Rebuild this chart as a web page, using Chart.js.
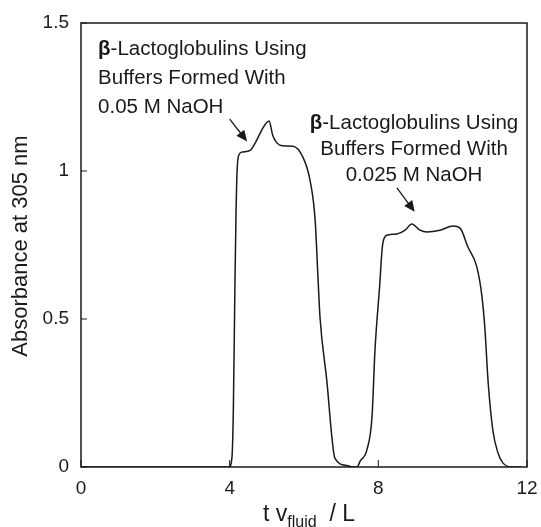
<!DOCTYPE html>
<html>
<head>
<meta charset="utf-8">
<script src="https://cdn.jsdelivr.net/npm/chart.js@4/dist/chart.umd.min.js"></script>
<style>
html,body{margin:0;padding:0;background:#fff;}
#wrap{width:541px;height:527px;position:relative;}
</style>
</head>
<body>
<div id="wrap"><canvas id="c" width="541" height="527"></canvas></div>
<script>
// ---- data ----
const volumes = [0, 3.98, 4.06, 4.10, 4.14, 4.17, 4.20, 4.25, 4.33, 4.55, 4.71, 4.87, 5.06, 5.16, 5.27, 5.43, 5.70, 5.97, 6.16, 6.30, 6.38, 6.43, 6.62, 6.75, 6.83, 7.16, 7.32, 7.43, 7.51, 7.69, 7.83, 7.91, 8.04, 8.10, 8.14, 8.26, 8.50, 8.72, 8.90, 9.12, 9.31, 9.66, 10.01, 10.20, 10.41, 10.65, 10.79, 10.87, 10.95, 11.08, 11.22, 11.35, 11.60, 11.85];
const absorbance = [0, 0, 0.03, 0.2, 0.6, 0.85, 1.0, 1.055, 1.064, 1.07, 1.10, 1.14, 1.169, 1.12, 1.095, 1.085, 1.084, 1.047, 0.97, 0.834, 0.63, 0.507, 0.284, 0.101, 0.03, 0.005, 0, 0, 0.02, 0.057, 0.17, 0.395, 0.62, 0.733, 0.767, 0.784, 0.787, 0.80, 0.821, 0.80, 0.794, 0.80, 0.814, 0.807, 0.743, 0.676, 0.574, 0.463, 0.294, 0.125, 0.047, 0.014, 0, 0];
const xTicks = [0, 4, 8, 12];
const yTicks = [0, 0.5, 1, 1.5];
const yTickLabels = ["0", "0.5", "1", "1.5"];
const label1 = ["-Lactoglobulins Using", "Buffers Formed With", "0.05 M NaOH"];
const label2 = ["-Lactoglobulins Using", "Buffers Formed With", "0.025 M NaOH"];
const yTitle = "Absorbance at 305 nm";

const FONT = "'Liberation Sans', Arial, Helvetica, sans-serif";
const INK = "#1a1a1a";

const points = volumes.map((v, i) => ({x: v, y: absorbance[i]}));

function arrow(ctx, x1, y1, x2, y2) {
  const ang = Math.atan2(y2 - y1, x2 - x1);
  const hl = 11, hw = 5;
  ctx.beginPath();
  ctx.moveTo(x1, y1);
  ctx.lineTo(x2 - Math.cos(ang) * hl * 0.8, y2 - Math.sin(ang) * hl * 0.8);
  ctx.stroke();
  ctx.beginPath();
  ctx.moveTo(x2, y2);
  ctx.lineTo(x2 - Math.cos(ang) * hl - Math.sin(ang) * hw, y2 - Math.sin(ang) * hl + Math.cos(ang) * hw);
  ctx.lineTo(x2 - Math.cos(ang) * hl + Math.sin(ang) * hw, y2 - Math.sin(ang) * hl - Math.cos(ang) * hw);
  ctx.closePath();
  ctx.fill();
}

const decor = {
  id: 'decor',
  afterDraw(chart) {
    const ctx = chart.ctx;
    const a = chart.chartArea;
    const xs = chart.scales.x, ys = chart.scales.y;
    ctx.save();
    // frame
    ctx.strokeStyle = INK;
    ctx.lineWidth = 1.5;
    ctx.strokeRect(a.left, a.top, a.right - a.left, a.bottom - a.top);
    // inward ticks
    ctx.lineWidth = 1;
    yTicks.forEach(v => {
      const py = ys.getPixelForValue(v);
      ctx.beginPath(); ctx.moveTo(a.left, py); ctx.lineTo(a.left + 6, py); ctx.stroke();
    });
    xTicks.forEach(v => {
      const px = xs.getPixelForValue(v);
      ctx.beginPath(); ctx.moveTo(px, a.bottom); ctx.lineTo(px, a.bottom - 7); ctx.stroke();
    });
    ctx.fillStyle = INK;
    ctx.textBaseline = 'middle';
    const fs = 20.5;
    const drawBetaLines = (lines, x0, y0, align, gap) => {
      lines.forEach((t, i) => {
        const y = y0 + i * gap;
        if (i === 0) {
          ctx.font = `bold ${fs}px ${FONT}`;
          const bw = ctx.measureText('β').width;
          ctx.font = `${fs}px ${FONT}`;
          const tw = ctx.measureText(t).width;
          let left = align === 'center' ? x0 - (bw + tw) / 2 : x0;
          ctx.textAlign = 'left';
          ctx.font = `bold ${fs}px ${FONT}`;
          ctx.fillText('β', left, y);
          ctx.font = `${fs}px ${FONT}`;
          ctx.fillText(t, left + bw, y);
        } else {
          ctx.font = `${fs}px ${FONT}`;
          ctx.textAlign = align;
          ctx.fillText(t, x0, y);
        }
      });
    };
    drawBetaLines(label1, xs.getPixelForValue(0.46), ys.getPixelForValue(1.41), 'left', 29);
    drawBetaLines(label2, xs.getPixelForValue(8.96), ys.getPixelForValue(1.162), 'center', 26);
    ctx.lineWidth = 1.3;
    arrow(ctx, xs.getPixelForValue(4.00), ys.getPixelForValue(1.175), xs.getPixelForValue(4.47), ys.getPixelForValue(1.10));
    arrow(ctx, xs.getPixelForValue(8.50), ys.getPixelForValue(0.943), xs.getPixelForValue(8.98), ys.getPixelForValue(0.862));
    // y title
    ctx.save();
    ctx.translate(21, 246);
    ctx.rotate(-Math.PI / 2);
    ctx.font = `22px ${FONT}`;
    ctx.textAlign = 'center';
    ctx.fillText(yTitle, 0, 0);
    ctx.restore();
    // x title with subscript
    const cx = 309;
    const ty = 515;
    ctx.textAlign = 'left';
    const p1 = 't v', p3 = '  / L', sub = 'fluid';
    ctx.font = `16px ${FONT}`;
    const w2 = ctx.measureText(sub).width;
    ctx.font = `23px ${FONT}`;
    const w1 = ctx.measureText(p1).width, w3 = ctx.measureText(p3).width;
    let sx = cx - (w1 + w2 + w3) / 2;
    ctx.fillText(p1, sx, ty);
    ctx.font = `16px ${FONT}`;
    ctx.fillText(sub, sx + w1, ty + 8);
    ctx.font = `23px ${FONT}`;
    ctx.fillText(p3, sx + w1 + w2, ty);
    ctx.restore();
  }
};

new Chart(document.getElementById('c'), {
  type: 'line',
  data: {
    datasets: [{
      data: points,
      borderColor: INK,
      borderWidth: 1.5,
      pointRadius: 0,
      fill: false,
      cubicInterpolationMode: 'monotone'
    }]
  },
  options: {
    responsive: false,
    animation: false,
    devicePixelRatio: 1,
    layout: {padding: {top: 23, right: 14, left: 0, bottom: 0}},
    plugins: {legend: {display: false}, tooltip: {enabled: false}},
    scales: {
      x: {
        type: 'linear', min: 0, max: 12,
        afterBuildTicks: s => { s.ticks = xTicks.map(v => ({value: v})); },
        afterFit: s => { s.height = 60; s.paddingLeft = 0; s.paddingRight = 0; },
        grid: {display: false, drawTicks: false},
        border: {display: false},
        ticks: {color: INK, font: {family: FONT, size: 19}, padding: 10, maxRotation: 0,
          callback: v => String(v)}
      },
      y: {
        type: 'linear', min: 0, max: 1.5,
        afterBuildTicks: s => { s.ticks = yTicks.map(v => ({value: v})); },
        afterFit: s => { s.width = 81; s.paddingTop = 0; s.paddingBottom = 0; },
        grid: {display: false, drawTicks: false},
        border: {display: false},
        ticks: {color: INK, font: {family: FONT, size: 19}, padding: 12,
          callback: v => { const i = yTicks.indexOf(v); return i >= 0 ? yTickLabels[i] : ''; }}
      }
    }
  },
  plugins: [decor]
});
</script>
</body>
</html>
